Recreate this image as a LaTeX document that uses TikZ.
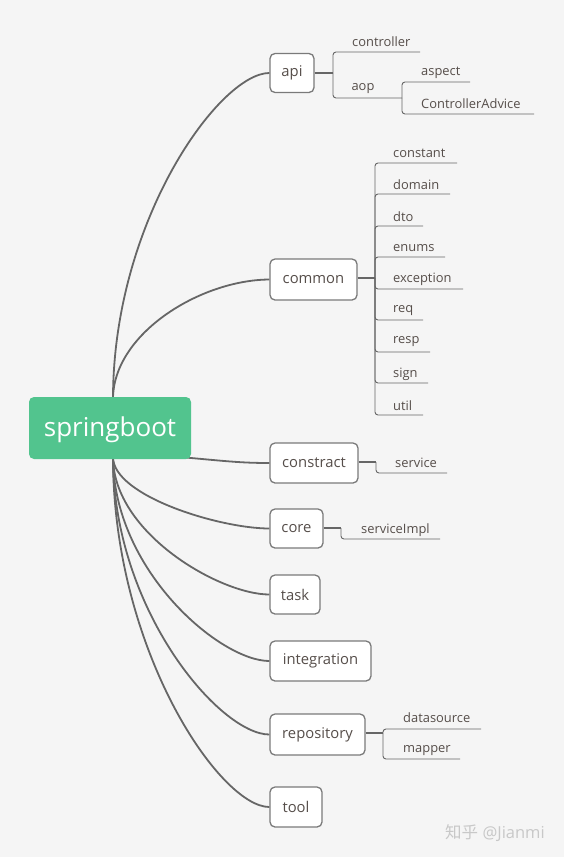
\documentclass[tikz,border=0pt]{standalone}
\usepackage{fontspec}
\setmainfont{Open Sans}
\newfontfamily\cjkfont{Noto Sans CJK SC}
\definecolor{bgc}{HTML}{F5F5F5}
\definecolor{rootg}{HTML}{52C48E}
\definecolor{txt}{HTML}{564E4A}
\definecolor{lnc}{HTML}{666666}
\definecolor{boxb}{HTML}{7A7A7A}
\definecolor{wm}{HTML}{C8C8C8}
\begin{document}
\begin{tikzpicture}[x=1pt,y=-1pt,
  rootbox/.style={fill=rootg,rounded corners=5pt,inner sep=0pt,text=white,font=\fontsize{26}{30}\selectfont},
  topicbox/.style={draw=boxb,line width=1.3pt,fill=white,rounded corners=5pt,inner sep=0pt,text=txt,font=\fontsize{14.8}{17}\selectfont},
  itemtext/.style={inner sep=0pt,text=txt,font=\fontsize{12.9}{15}\selectfont},
  mainline/.style={draw=lnc,line width=1.8pt},
  stemline/.style={draw=lnc,line width=1.6pt},
  subline/.style={draw=lnc,line width=0.9pt,rounded corners=3pt}]
\fill[bgc] (0,0) rectangle (564,857);
\useasboundingbox (0,0) rectangle (564,857);

% topic boxes
\node[topicbox,minimum width=44pt,minimum height=39pt] (api) at (292,73) {api};
\node[topicbox,minimum width=87pt,minimum height=41pt] (common) at (313.5,279.5) {common};
\node[topicbox,minimum width=88pt,minimum height=40pt] (constract) at (314,463) {constract};
\node[topicbox,minimum width=53pt,minimum height=39pt] (core) at (296.5,528.5) {core};
\node[topicbox,minimum width=50pt,minimum height=39pt] (task) at (295,594.5) {task};
\node[topicbox,minimum width=101pt,minimum height=40pt] (integration) at (320.5,661) {integration};
\node[topicbox,minimum width=95pt,minimum height=41pt] (repository) at (317.5,734.5) {repository};
\node[topicbox,minimum width=52pt,minimum height=40pt] (tool) at (296,807) {tool};

% main curves
\coordinate (rt) at (113,399);
\coordinate (rb) at (113,457);
\coordinate (rr) at (180,457);
\draw[mainline] (rt) .. controls (113,220) and (220,73) .. (api.west);
\draw[mainline] (rt) .. controls (113,334) and (200,280) .. (common.west);
\draw[mainline] (rr) .. controls (225,461) and (240,463) .. (constract.west);
\draw[mainline] (rb) .. controls (113,496) and (220,528.5) .. (core.west);
\draw[mainline] (rb) .. controls (113,533) and (220,594.5) .. (task.west);
\draw[mainline] (rb) .. controls (113,570) and (220,661) .. (integration.west);
\draw[mainline] (rb) .. controls (113,610) and (220,734.5) .. (repository.west);
\draw[mainline] (rb) .. controls (113,650) and (220,807) .. (tool.west);

% root
\node[rootbox,minimum width=162pt,minimum height=62pt] (root) at (110,428) {};
\node[inner sep=0pt,text=white,font=\fontsize{26}{30}\selectfont] (rootlabel) at (110,430) {springboot};

% api branch
\coordinate (apij) at (333,73);
\draw[stemline] (api.east) -- (apij);
\coordinate (controllerE) at (420,52);
\coordinate (aopE) at (402,98);
\draw[subline] (apij) |- (controllerE);
\draw[subline] (apij) |- (aopE);
\node[itemtext,anchor=west] (controller) at (352,42) {controller};
\node[itemtext] (aop) at (363,89) {aop};
\coordinate (aspectE) at (470,82);
\coordinate (caE) at (534,114);
\draw[subline] (aopE) |- (aspectE);
\draw[subline] (aopE) |- (caE);
\node[itemtext,anchor=west] (aspect) at (421,73) {aspect};
\node[itemtext,anchor=west] (ca) at (421,104) {ControllerAdvice};

% common branch
\coordinate (cj) at (375,278);
\draw[stemline] (common.east |- cj) -- (cj);
\foreach \nm/\ly/\ex/\ty in {constant/163/457/153, domain/194/450/185, dto/226/423/217, enums/257/445/248, exception/289/463/279, req/320/423/311, resp/352/430/342, sign/383/428/374, util/415/423/406}{
  \coordinate (\nm E) at (\ex,\ly);
  \draw[subline] (cj) |- (\nm E);
  \node[itemtext,anchor=west] (\nm) at (393,\ty) {\nm};
}

% constract branch
\coordinate (csj) at (376,462);
\coordinate (serviceE) at (447,473);
\draw[stemline] (constract.east |- csj) -- (csj);
\draw[subline] (csj) |- (serviceE);
\node[itemtext,anchor=west] (service) at (395,463) {service};

% core branch
\coordinate (coj) at (341,528);
\coordinate (implE) at (440,539);
\draw[stemline] (core.east |- coj) -- (coj);
\draw[subline] (coj) |- (implE);
\node[itemtext,anchor=west] (impl) at (361,530) {serviceImpl};

% repository branch
\coordinate (rj) at (383,733);
\coordinate (dsE) at (481,729);
\coordinate (mpE) at (460,759);
\draw[stemline] (repository.east |- rj) -- (rj);
\draw[subline] (rj) |- (dsE);
\draw[subline] (rj) |- (mpE);
\node[itemtext,anchor=west] (datasource) at (403,718) {datasource};
\node[itemtext,anchor=west] (mapper) at (403,751) {mapper};

% watermark
\node[inner sep=0pt,text=wm,font=\fontsize{16.5}{18}\selectfont] (wmk) at (495,833) {{\cjkfont 知乎} @Jianmi};
\end{tikzpicture}
\end{document}
